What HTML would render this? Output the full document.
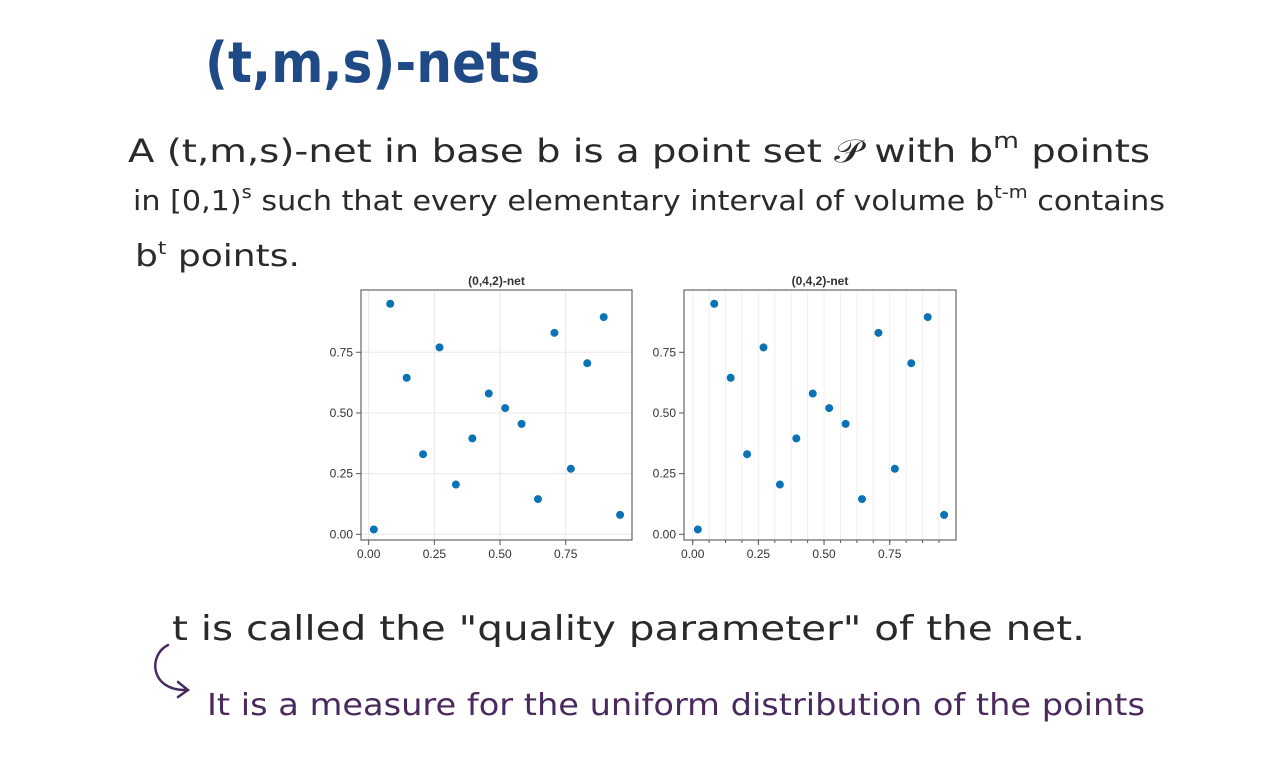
<!DOCTYPE html>
<html><head><meta charset="utf-8"><style>
html,body{margin:0;padding:0;background:#fff;width:1280px;height:768px;overflow:hidden}
svg{display:block}
.hw{font-family:"DejaVu Sans","Liberation Sans",sans-serif;fill:#2a2a2a}
.tk{font-family:"Liberation Sans",sans-serif;font-size:12px;fill:#333}
</style></head><body>
<svg id="root" width="1280" height="768" viewBox="0 0 1280 768">
<text x="205" y="82" class="hw" style="fill:#1f4a86;font-weight:bold;font-size:56px" textLength="335" lengthAdjust="spacingAndGlyphs">(t,m,s)-nets</text>
<text x="128" y="162" class="hw" font-size="32" textLength="1022" lengthAdjust="spacingAndGlyphs">A (t,m,s)-net in base b is a point set 𝒫 with b<tspan dy="-14" font-size="22">m</tspan><tspan dy="14"> points</tspan></text>
<text x="133" y="210" class="hw" font-size="28" textLength="1032" lengthAdjust="spacingAndGlyphs">in [0,1)<tspan dy="-12" font-size="18">s</tspan><tspan dy="12"> such that every elementary interval of volume b</tspan><tspan dy="-12" font-size="18">t-m</tspan><tspan dy="12"> contains</tspan></text>
<text x="135" y="266" class="hw" font-size="30" textLength="165" lengthAdjust="spacingAndGlyphs">b<tspan dy="-12" font-size="18">t</tspan><tspan dy="12"> points.</tspan></text>
<text x="172" y="640" class="hw" font-size="34" textLength="913" lengthAdjust="spacingAndGlyphs">t is called the "quality parameter" of the net.</text>
<path d="M168 645 C148 655,150 690,185 690 M178 682 L188 690 L178 697" fill="none" stroke="#4a2a5e" stroke-width="2.5" stroke-linecap="round"/>
<text x="207" y="715" class="hw" font-size="30" style="fill:#4a2a5e" textLength="938" lengthAdjust="spacingAndGlyphs">It is a measure for the uniform distribution of the points</text>
<g id="c1"></g>
<g id="c2"></g>
</svg>
<script>
const xValues=[0.0195,0.0820,0.1445,0.2070,0.2695,0.3320,0.3945,0.4570,0.5195,0.5820,0.6445,0.7070,0.7695,0.8320,0.8945,0.9570];
const yValues=[0.02,0.95,0.645,0.33,0.77,0.205,0.395,0.58,0.52,0.455,0.145,0.83,0.27,0.705,0.895,0.08];
const tickValues=[0,0.25,0.5,0.75];
const tickLabels=["0.00","0.25","0.50","0.75"];
const chartTitle="(0,4,2)-net";
const NS="http://www.w3.org/2000/svg";
function mk(parent,tag,attrs){const e=document.createElementNS(NS,tag);for(const k in attrs)e.setAttribute(k,attrs[k]);parent.appendChild(e);return e;}
function draw(g,left,right,x0,fine){
  const top=290,bottom=540,y0=534.3,sx=262.7,sy=242.7;
  const X=v=>x0+v*sx, Y=v=>y0-v*sy;
  if(fine){
    for(let i=0;i<=15;i++){const l=mk(g,'line',{x1:X(i/16),x2:X(i/16),y1:top,y2:bottom,stroke:'#efefef','stroke-width':1});
    
    
    const t=mk(g,'line',{x1:X(i/16),x2:X(i/16),y1:bottom,y2:bottom+3,stroke:'#555'});
    
    }
  } else {
    tickValues.forEach(v=>{const a=mk(g,'line',{x1:X(v),x2:X(v),y1:top,y2:bottom,stroke:'#e8e8e8'});
    
    
    const b=mk(g,'line',{x1:left,x2:right,y1:Y(v),y2:Y(v),stroke:'#e8e8e8'});
    
    });
  }
  const f=mk(g,'rect',{x:left,y:top,width:right-left,height:bottom-top,fill:'none',stroke:'#666','stroke-width':1.2});
  
  
  tickValues.forEach((v,i)=>{
    const a=mk(g,'line',{x1:X(v),x2:X(v),y1:bottom,y2:bottom+5,stroke:'#555'});
    
    
    const b=mk(g,'line',{x1:left-5,x2:left,y1:Y(v),y2:Y(v),stroke:'#555'});
    
    
    const tx=mk(g,'text',{x:X(v),y:bottom+18,'text-anchor':'middle',class:'tk'});tx.textContent=tickLabels[i];
    
    
    const ty=mk(g,'text',{x:left-8,y:Y(v)+4,'text-anchor':'end',class:'tk'});ty.textContent=tickLabels[i];
    
    
  });
  const t=mk(g,'text',{x:(left+right)/2,y:285,'text-anchor':'middle',class:'tk','font-weight':'bold','font-size':'11.5'});t.textContent=chartTitle;
  
  
  xValues.forEach((xv,i)=>{const c=mk(g,'circle',{cx:X(xv),cy:Y(yValues[i]),r:4,fill:'#0a72b5'});
    
    });
}
draw(document.getElementById('c1'),361,632,368.7,false);
draw(document.getElementById('c2'),684,956,692.7,true);
</script>
</body></html>
